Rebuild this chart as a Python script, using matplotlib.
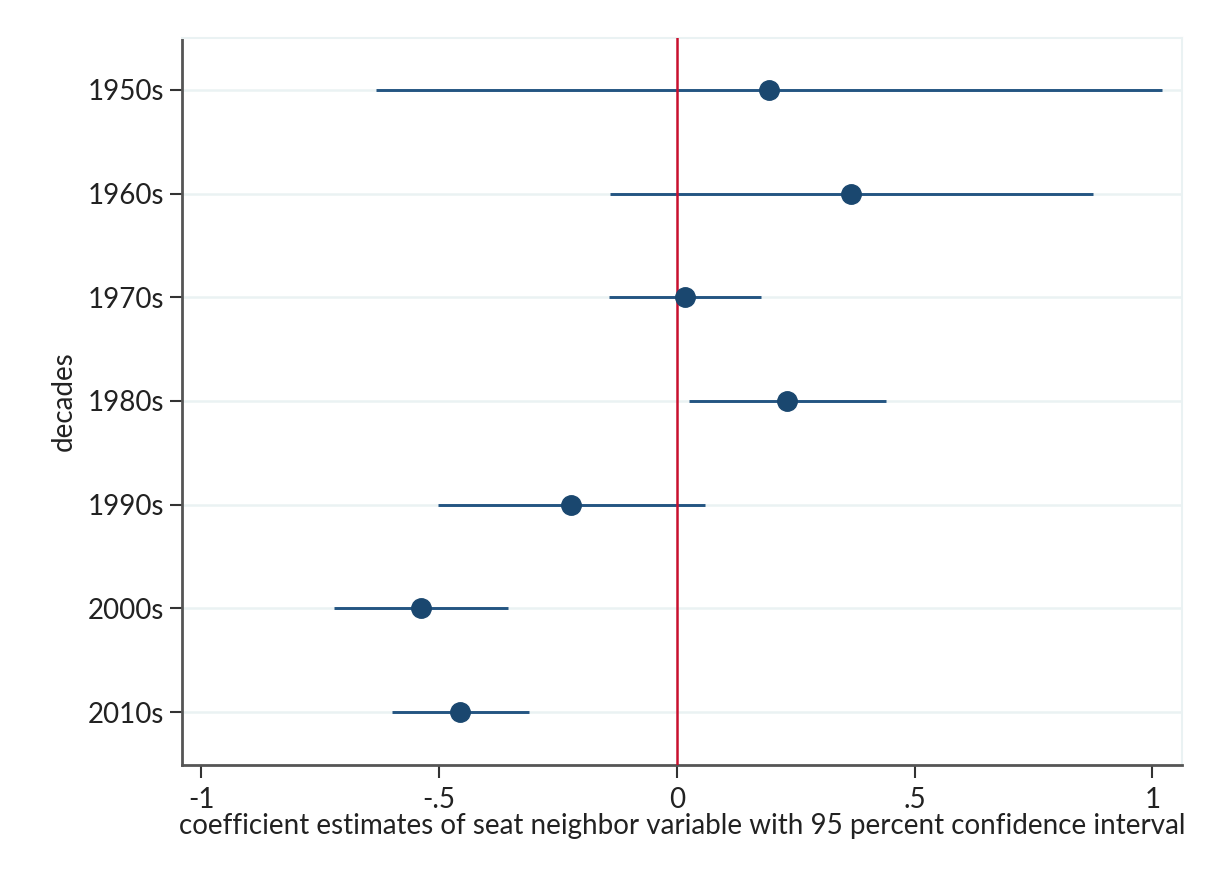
import matplotlib.pyplot as plt
import numpy as np

plt.rcParams['font.family'] = ['Lato', 'DejaVu Sans']

# coefficient estimates and 95% CIs
decades = ['1950s', '1960s', '1970s', '1980s', '1990s', '2000s', '2010s']
coef = [0.193, 0.366, 0.017, 0.231, -0.223, -0.538, -0.456]
ci_low = [-0.633, -0.141, -0.143, 0.025, -0.503, -0.721, -0.599]
ci_high = [1.020, 0.875, 0.177, 0.440, 0.059, -0.355, -0.311]
xticks = [-1, -0.5, 0, 0.5, 1]
xticklabels = ['-1', '-.5', '0', '.5', '1']

navy = '#1a476f'
grid_c = '#eaf2f3'

fig = plt.figure(figsize=(12.06, 8.77), dpi=100)
ax = fig.add_axes([0.1509, 0.1277, 0.829, 0.829])

ypos = np.arange(len(decades))
for y in ypos:
    ax.axhline(y, color=grid_c, lw=1.8, zorder=0)
ax.hlines(ypos, ci_low, ci_high, color='#245582', lw=2.1, zorder=2)
ax.axvline(0, color='#c8102e', lw=1.8, zorder=3)
ax.plot(coef, ypos, 'o', color=navy, ms=14, zorder=4)

ax.set_ylim(6.51, -0.5)
ax.set_xlim(-1.041, 1.062)
ax.set_yticks(ypos)
ax.set_yticklabels(decades)
ax.set_xticks(xticks)
ax.set_xticklabels(xticklabels)

for s in ['top', 'right']:
    ax.spines[s].set_color(grid_c)
    ax.spines[s].set_linewidth(1.5)
for s in ['left', 'bottom']:
    ax.spines[s].set_color('#555555')
    ax.spines[s].set_linewidth(2)

ax.tick_params(axis='both', labelsize=20, color='#333333', width=1.5,
               length=9, labelcolor='#222222')
ax.tick_params(axis='y', pad=4)
ax.tick_params(axis='x', pad=7)

ax.set_ylabel('decades', fontsize=20, color='#222222', labelpad=8)
ax.set_xlabel('coefficient estimates of seat neighbor variable with 95 percent confidence interval',
              fontsize=20, color='#222222', labelpad=0)

plt.savefig('out.png', dpi=100)
